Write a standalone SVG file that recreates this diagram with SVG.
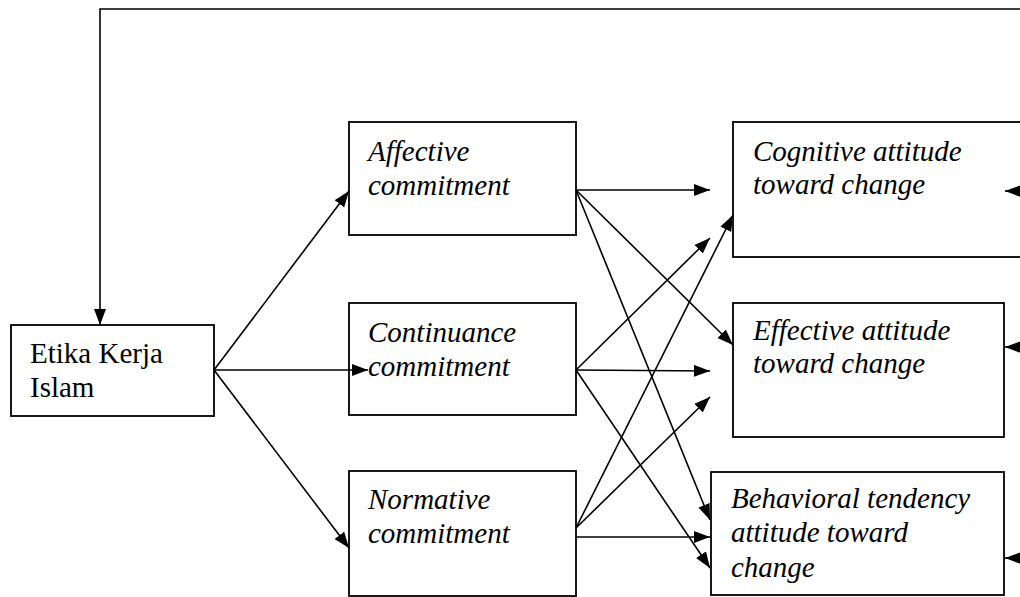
<svg xmlns="http://www.w3.org/2000/svg" width="1020" height="597" viewBox="0 0 1020 597">
<style>
.box{fill:#fff;stroke:#000;stroke-width:1.8}
.t{font-family:"Liberation Serif","Times New Roman",serif;font-size:29px;fill:#000}
.i{font-style:italic}
.c{fill:none;stroke:#000;stroke-width:1.6}
</style>
<defs>
<marker id="ah" markerUnits="userSpaceOnUse" markerWidth="17" markerHeight="13" refX="16" refY="6" orient="auto">
<path d="M0,0 L16,6 L0,12 z" fill="#000"/>
</marker>
</defs>
<rect width="1020" height="597" fill="#fff"/>
<g id="etika"><rect class="box" x="11" y="325" width="203" height="91"/>
<text class="t" x="30" y="363">Etika Kerja</text><text class="t" x="30" y="397">Islam</text></g>
<g id="affective"><rect class="box" x="349" y="122" width="227" height="113"/>
<text class="t i" x="368" y="161">Affective</text><text class="t i" x="368" y="195">commitment</text></g>
<g id="continuance"><rect class="box" x="349" y="303" width="227" height="112"/>
<text class="t i" x="368" y="342">Continuance</text><text class="t i" x="368" y="376">commitment</text></g>
<g id="normative"><rect class="box" x="349" y="471" width="227" height="125"/>
<text class="t i" x="368" y="509">Normative</text><text class="t i" x="368" y="543">commitment</text></g>
<g id="cognitive"><rect class="box" x="733" y="122" width="300" height="135"/>
<text class="t i" x="753" y="161">Cognitive attitude</text><text class="t i" x="753" y="194">toward change</text></g>
<g id="effective"><rect class="box" x="733" y="303" width="271" height="134"/>
<text class="t i" x="753" y="340">Effective attitude</text><text class="t i" x="753" y="373">toward change</text></g>
<g id="behavioral"><rect class="box" x="711" y="472" width="293" height="123"/>
<text class="t i" x="731" y="508">Behavioral tendency</text><text class="t i" x="731" y="542">attitude toward</text><text class="t i" x="731" y="577">change</text></g>
<g id="connectors">
<path class="c" d="M1022,9 L100,9 L100,325" marker-end="url(#ah)"/>
<line class="c" x1="214" y1="370" x2="349" y2="191" marker-end="url(#ah)"/>
<line class="c" x1="214" y1="370" x2="368" y2="370" marker-end="url(#ah)"/>
<line class="c" x1="214" y1="370" x2="349" y2="548" marker-end="url(#ah)"/>
<line class="c" x1="576" y1="190" x2="710" y2="190" marker-end="url(#ah)"/>
<line class="c" x1="576" y1="190" x2="733" y2="345" marker-end="url(#ah)"/>
<line class="c" x1="576" y1="190" x2="710" y2="520" marker-end="url(#ah)"/>
<line class="c" x1="576" y1="370" x2="710" y2="238" marker-end="url(#ah)"/>
<line class="c" x1="576" y1="370" x2="710" y2="371" marker-end="url(#ah)"/>
<line class="c" x1="576" y1="370" x2="710" y2="568" marker-end="url(#ah)"/>
<line class="c" x1="576" y1="528" x2="733" y2="215" marker-end="url(#ah)"/>
<line class="c" x1="576" y1="528" x2="710" y2="397" marker-end="url(#ah)"/>
<line class="c" x1="576" y1="537" x2="710" y2="537" marker-end="url(#ah)"/>
<line class="c" x1="1022" y1="191" x2="1005" y2="191" marker-end="url(#ah)"/>
<line class="c" x1="1022" y1="347" x2="1005" y2="347" marker-end="url(#ah)"/>
<line class="c" x1="1022" y1="558" x2="1005" y2="558" marker-end="url(#ah)"/>
</g>
</svg>
